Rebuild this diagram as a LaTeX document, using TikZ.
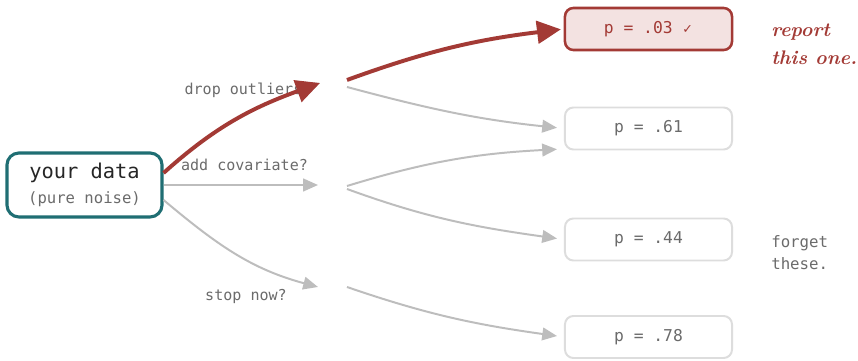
\documentclass[tikz,border=0pt]{standalone}
\usepackage{fontspec}
\usepackage{tikz}
\usepackage{xcolor}
\usetikzlibrary{positioning, arrows.meta}

\newfontfamily\datamono{DejaVu Sans Mono}
\newfontfamily\datasym{DejaVu Sans}

\definecolor{datateal}{HTML}{1F6E73}
\definecolor{hackred}{HTML}{A33A35}
\definecolor{hackpink}{HTML}{F3E2E1}
\definecolor{arrowgray}{HTML}{BDBDBD}
\definecolor{boxgray}{HTML}{DDDDDD}
\definecolor{textgray}{HTML}{6B6B6B}

\tikzset{
  srcbox/.style={draw=datateal, line width=2.2pt, rounded corners=8.5pt, minimum width=3.875cm, minimum height=1.6cm, align=center, text=black!85, font=\datamono\fontsize{14.5}{17.7}\selectfont},
  pbox/.style={draw=boxgray, line width=1.4pt, rounded corners=6pt, minimum width=4.175cm, minimum height=1.05cm, text=textgray, font=\datamono\fontsize{11.6}{14}\selectfont},
  pwin/.style={pbox, draw=hackred, fill=hackpink, text=hackred, line width=1.8pt},
  forklabel/.style={text=textgray, inner sep=0pt, font=\datamono\fontsize{10.7}{13}\selectfont},
  grayarrow/.style={draw=arrowgray, line width=1.4pt, -{Triangle[length=10.5pt, width=9pt]}},
  redarrow/.style={draw=hackred, line width=2.8pt, -{Triangle[length=17pt, width=16pt]}},
}

\begin{document}
\begin{tikzpicture}[x=0.025cm, y=0.025cm]
    \useasboundingbox[fill=white] (0,0) rectangle (858,361);

    \node[srcbox] (src) at (84.5,176) {your data\\{\color{textgray}\fontsize{11.1}{14}\selectfont (pure noise)}};

    \node[pwin] (p03) at (648.5,332) {p = .03 {\datasym\fontsize{9}{10}\selectfont ✓}};
    \node[pbox] (p61) at (648.5,232.5) {p = .61};
    \node[pbox] (p44) at (648.5,121.5) {p = .44};
    \node[pbox] (p78) at (648.5,24) {p = .78};

    \coordinate (dropin) at (320,278);
    \coordinate (dropred) at (347,281);
    \coordinate (dropgray) at (347,274);
    \coordinate (covin) at (318,176);
    \coordinate (covout) at (347,175);
    \coordinate (stopin) at (318,74);
    \coordinate (stopout) at (347,74);

    \node[forklabel] (droplabel) at (248,271) {drop outliers?};
    \node[forklabel] (covlabel) at (244.5,196) {add covariate?};
    \node[forklabel] (stoplabel) at (246,65) {stop now?};

    \node[anchor=west, align=left, inner sep=0pt, text=hackred, font=\fontsize{14}{19.8}\selectfont\bfseries\itshape] (report) at (771,317) {report\\this one.};
    \node[anchor=west, align=left, inner sep=0pt, text=textgray, font=\datamono\fontsize{11.2}{15.6}\selectfont] (forget) at (771,108) {forget\\these.};

    % first fork
    \draw[grayarrow] ([yshift=0.3cm]src.east) to[out=42, in=200] (dropin);
    \draw[grayarrow] (src.east) -- (covin);
    \draw[grayarrow] ([yshift=-0.375cm]src.east) to[out=-40, in=165] (stopin);

    % second fork
    \draw[grayarrow, shorten >=5pt] (dropgray) to[out=-15, in=174] (p61.west);
    \draw[grayarrow, shorten >=5pt] (covout) to[out=17, in=183] ([yshift=-0.51cm]p61.west);
    \draw[grayarrow, shorten >=5pt] ([yshift=-0.075cm]covout) to[out=-20, in=172] (p44.west);
    \draw[grayarrow, shorten >=5pt] (stopout) to[out=-19, in=172] (p78.west);

    % the path that gets reported
    \draw[redarrow] ([yshift=0.3cm]src.east) to[out=42, in=200] (dropin);
    \draw[redarrow, shorten >=2pt] (dropred) to[out=20, in=187] (p03.west);
\end{tikzpicture}
\end{document}
